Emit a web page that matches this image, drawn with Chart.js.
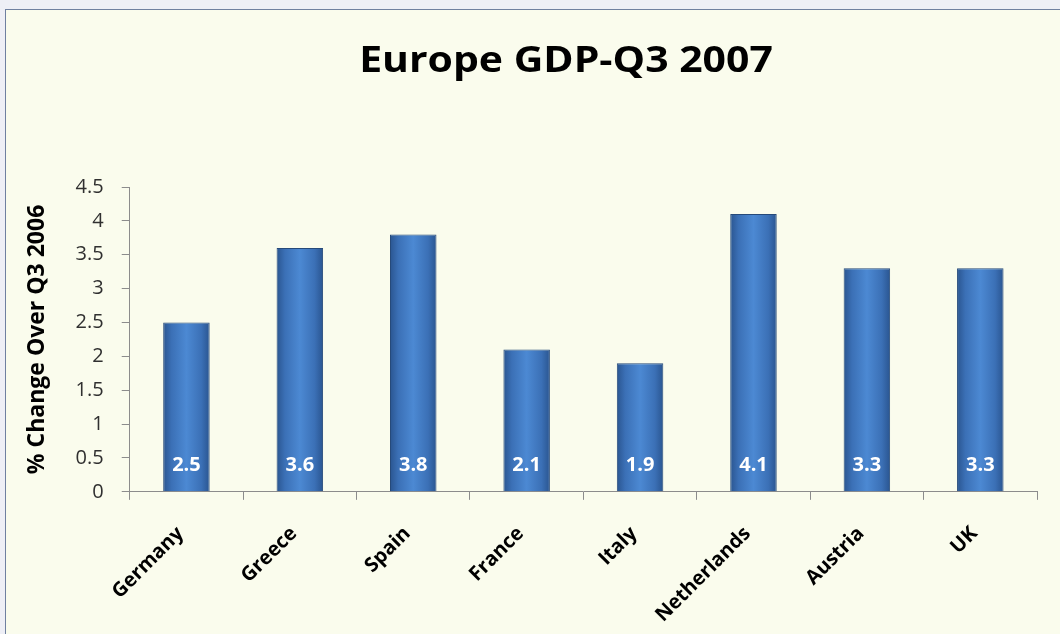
<!DOCTYPE html>
<html lang="en">
<head>
  <meta charset="UTF-8" />
  <title>Europe GDP-Q3 2007</title>
  <script src="https://cdn.jsdelivr.net/npm/chart.js"></script>
  <style>
    html, body { margin: 0; padding: 0; }
    body { width: 1060px; height: 634px; overflow: hidden; background: #eeeff6; position: relative; }
    #panel {
      position: absolute; left: 5px; top: 9px; width: 1120px; height: 640px;
      background: #fafced; border: 1px solid #6f80a0;
    }
    #chart { position: absolute; left: 0; top: 0; }
    #title {
      position: absolute; left: 0; top: 27px; width: 1120px; text-align: center;
      font: bold 35px "Open Sans", Lato, sans-serif; color: #000; line-height: 44px;
      transform: scaleX(1.17); transform-origin: 560px 0;
    }
  </style>
</head>
<body>
  <div id="panel">
    <canvas id="chart" width="1120" height="640"></canvas>
    <div id="title">Europe GDP-Q3 2007</div>
  </div>

  <script>
    const countries = ["Germany", "Greece", "Spain", "France", "Italy", "Netherlands", "Austria", "UK"];
    const gdpChange = [2.5, 3.6, 3.8, 2.1, 1.9, 4.1, 3.3, 3.3];
    const yTicks = [0, 0.5, 1, 1.5, 2, 2.5, 3, 3.5, 4, 4.5];

    const FONT = "'Open Sans', Lato, sans-serif";
    const BAR_PCT = 0.41;

    // horizontal shading across each bar, built from the x scale position
    function barFill(ctx) {
      const chart = ctx.chart;
      const xs = chart.scales.x;
      if (!xs || ctx.dataIndex === undefined) return "#3f77c0";
      const cx = xs.getPixelForValue(ctx.dataIndex);
      const half = (xs.width / countries.length) * BAR_PCT / 2;
      if (!isFinite(cx) || !isFinite(half) || half <= 0) return "#3f77c0";
      const g = chart.ctx.createLinearGradient(cx - half, 0, cx + half, 0);
      g.addColorStop(0, "#2a5590");
      g.addColorStop(0.18, "#3b70b6");
      g.addColorStop(0.5, "#4c89d3");
      g.addColorStop(0.82, "#3b70b6");
      g.addColorStop(1, "#2a5590");
      return g;
    }

    const valueLabels = {
      id: "valueLabels",
      afterDatasetsDraw(chart) {
        const c = chart.ctx;
        const meta = chart.getDatasetMeta(0);
        const base = chart.scales.y.getPixelForValue(0);
        c.save();
        c.font = "bold 20px " + FONT;
        c.fillStyle = "#ffffff";
        c.textAlign = "center";
        c.textBaseline = "middle";
        meta.data.forEach((bar, i) => {
          c.fillText(String(gdpChange[i]), bar.x, base - 27);
        });
        c.restore();
      }
    };

    new Chart(document.getElementById("chart"), {
      type: "bar",
      data: {
        labels: countries,
        datasets: [{
          data: gdpChange,
          backgroundColor: barFill,
          borderColor: "#264a7a",
          borderWidth: 1,
          categoryPercentage: 1,
          barPercentage: BAR_PCT
        }]
      },
      options: {
        responsive: false,
        animation: false,
        layout: { padding: { left: 18, right: 89, top: 177, bottom: 1 } },
        plugins: {
          legend: { display: false },
          tooltip: { enabled: false },
          title: { display: false }
        },
        scales: {
          x: {
            grid: { display: true, drawOnChartArea: false, offset: true, color: "#8c8c8c", tickLength: 8 },
            border: { color: "#8c8c8c" },
            ticks: {
              color: "#000000",
              font: { family: FONT, size: 20, weight: "bold" },
              minRotation: 45, maxRotation: 45,
              padding: 22,
              labelOffset: -6
            }
          },
          y: {
            min: 0,
            max: 4.5,
            afterBuildTicks(axis) { axis.ticks = yTicks.map(v => ({ value: v })); },
            grid: { display: true, drawOnChartArea: false, color: "#8c8c8c", tickLength: 8 },
            border: { color: "#8c8c8c" },
            ticks: {
              color: "#303030",
              font: { family: FONT, size: 20 },
              padding: 18,
              callback: v => String(v)
            },
            title: {
              display: true,
              text: "% Change Over Q3 2006",
              color: "#000000",
              font: { family: FONT, size: 23, weight: "bold" },
              padding: { top: 0, bottom: 6 }
            }
          }
        }
      },
      plugins: [valueLabels]
    });
  </script>
</body>
</html>
